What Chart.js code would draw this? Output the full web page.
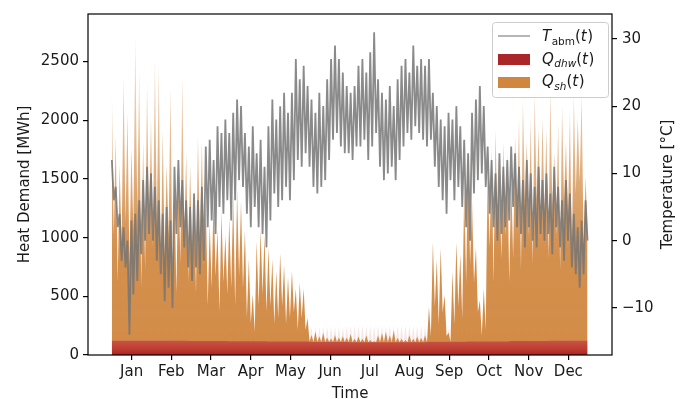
<!DOCTYPE html>
<html>
<head>
<meta charset="utf-8">
<script src="https://cdn.jsdelivr.net/npm/chart.js@4.4.1/dist/chart.umd.min.js"></script>
<style>
  html, body { margin: 0; padding: 0; background: #fff; }
  #wrap { width: 685px; height: 399px; }
</style>
</head>
<body>
<div id="wrap"><canvas id="chart" width="685" height="399"></canvas></div>
<script>
// =============================
// DATA (one value per 3-day block)
// =============================
const monthLabels = ["Jan", "Feb", "Mar", "Apr", "May", "Jun", "Jul", "Aug", "Sep", "Oct", "Nov", "Dec"];
const monthTickDays = [15.2, 45.6, 76.0, 106.5, 136.9, 167.3, 197.7, 228.1, 258.5, 289.0, 319.4, 349.8];
const monthStartDays = [0, 31, 59, 90, 120, 151, 181, 212, 243, 273, 304, 334];
const blockDays = 3;

// outdoor temperature, upper / lower swing per block [°C]
const tempHigh = [
    12, 8, 4, 2, 0, 3, 4, 6, 9, 11,
    10, 8, 6, 4, 5, 3, 11, 12, 9, 6,
    5, 7, 6, 8, 14, 15, 12, 17, 16, 18,
    16, 19, 21, 20, 16, 14, 17, 13, 15, 11,
    17, 21, 18, 20, 22, 19, 22, 27, 24, 26,
    23, 21, 19, 22, 20, 24, 27, 29, 27, 25,
    23, 22, 23, 26, 27, 25, 28, 31, 24, 22,
    21, 23, 20, 24, 26, 27, 25, 29, 26, 27,
    26, 27, 22, 20, 18, 17, 19, 18, 20, 17,
    15, 13, 19, 21, 23, 20, 14, 12, 10, 13,
    11, 12, 14, 13, 11, 9, 12, 10, 8, 11,
    9, 10, 7, 11, 8, 6, 9, 7, 4, 2, 3, 6
];
const tempLow = [
    6, 2, -3, -4, -14, -8, -6, -2, 0, 1,
    0, -3, -5, -9, -7, -10, 1, 2, -1, -4,
    -6, -4, -5, -3, 2, 3, 1, 5, 4, 6,
    3, 6, 9, 8, 4, 2, 5, 2, 1, -1,
    3, 7, 5, 6, 8, 6, 9, 12, 11, 13,
    11, 8, 7, 8, 9, 12, 15, 16, 14, 13,
    13, 12, 14, 14, 15, 12, 14, 16, 11, 9,
    10, 11, 9, 12, 14, 16, 15, 17, 16, 15,
    14, 15, 11, 8, 6, 4, 9, 6, 8, 5,
    2, 0, 7, 9, 10, 8, 4, 2, 0, 1,
    2, 3, 5, 2, 1, -1, 2, 0, -1, 1,
    0, 1, -2, 2, -1, -3, 0, -4, -5, -7, -5, 0
];

// space heating demand, spike tops / gaps between spikes per block [MWh]
const shPeak = [
    2150, 1750, 1500, 2250, 1950, 1650, 2600, 2300, 1700, 2200,
    1900, 2400, 2350, 1800, 1500, 2150, 1300, 1500, 2250, 1600,
    1500, 1300, 1750, 1700, 1200, 1000, 1250, 950, 1100, 900,
    1050, 1250, 1300, 1200, 950, 700, 400, 850, 950, 900,
    800, 700, 600, 750, 650, 550, 600, 450, 500, 450,
    200, 60, 90, 50, 80, 40, 30, 60, 40, 50,
    40, 70, 30, 50, 30, 60, 20, 10, 60, 80,
    90, 60, 100, 40, 30, 20, 60, 30, 50, 40,
    60, 300, 850, 700, 800, 400, 80, 600, 850, 750,
    1300, 1600, 1200, 800, 350, 450, 1500, 1650, 1800, 1400,
    1700, 1600, 1400, 1750, 1900, 2050, 1700, 1900, 2100, 1800,
    1900, 1800, 2150, 1600, 1850, 2000, 1700, 1950, 2100, 1900, 2100, 1400
];
const shGap = [
    900, 500, 800, 1000, 650, 950, 1100, 450, 600, 900,
    800, 1000, 550, 700, 900, 450, 400, 650, 850, 500,
    700, 400, 750, 650, 300, 450, 550, 250, 500, 400,
    450, 300, 550, 450, 200, 150, 80, 300, 400, 250,
    300, 150, 200, 300, 150, 200, 250, 100, 200, 100,
    0, 0, 0, 0, 0, 0, 0, 0, 0, 0,
    0, 0, 0, 0, 0, 0, 0, 0, 0, 0,
    0, 0, 0, 0, 0, 0, 0, 0, 0, 0,
    0, 50, 300, 150, 250, 50, 0, 150, 300, 200,
    500, 650, 500, 250, 50, 100, 800, 500, 1000, 700,
    900, 500, 700, 1000, 600, 1200, 900, 650, 1200, 1000,
    1100, 700, 1150, 900, 600, 1200, 1000, 700, 1250, 1350, 800, 900
];

// domestic hot water demand per month [MWh]: solid level and hourly spike tops
const dhwBase = [122, 122, 120, 118, 115, 110, 108, 108, 112, 116, 120, 122];
const dhwPeak = [170, 170, 170, 180, 200, 240, 250, 250, 230, 190, 170, 170];

// =============================
// HELPERS
// =============================
function monthOf(day) {
    let m = 0;
    for (let i = 0; i < monthStartDays.length; i++) {
        if (day >= monthStartDays[i]) m = i;
    }
    return m;
}

function zigzag(highs, lows, offset) {
    const pts = [];
    highs.forEach((h, i) => {
        const d = i * blockDays;
        const base = offset ? offset[monthOf(d)] : 0;
        pts.push({ x: d, y: base + h });
        pts.push({ x: d + blockDays / 2, y: base + lows[i] });
    });
    return pts;
}

function monthlyZigzag(highs, lows) {
    const pts = [];
    for (let i = 0; i < tempHigh.length; i++) {
        const d = i * blockDays;
        pts.push({ x: d, y: highs[monthOf(d)] });
        pts.push({ x: d + blockDays / 2, y: lows[monthOf(d)] });
    }
    return pts;
}

function monthlyFlat(levels) {
    const pts = [];
    for (let i = 0; i < tempHigh.length; i++) {
        const d = i * blockDays;
        pts.push({ x: d, y: levels[monthOf(d)] });
    }
    pts.push({ x: 364.5, y: levels[11] });
    return pts;
}

function heightGradient(chart, stops) {
    const { ctx, chartArea, scales } = chart;
    if (!chartArea) return "rgba(0,0,0,0)";
    const y = scales.y;
    const top = 2800;
    const g = ctx.createLinearGradient(0, y.getPixelForValue(0), 0, y.getPixelForValue(top));
    stops.forEach(([v, c]) => g.addColorStop(v / top, c));
    return g;
}

// =============================
// PLUGINS
// =============================
function drawRich(ctx, x, y, parts) {
    parts.forEach(p => {
        const size = p.sub ? 10.5 : 15;
        ctx.font = (p.it ? "italic " : "") + size + 'px "DejaVu Sans"';
        ctx.fillText(p.t, x, y + (p.sub ? 3.5 : 0));
        x += ctx.measureText(p.t).width + (p.it && !p.sub ? 0.5 : 0);
    });
}

const framePlugin = {
    id: "frame",
    afterDraw(chart) {
        const { ctx, chartArea: a } = chart;
        ctx.save();
        ctx.strokeStyle = "#000";
        ctx.lineWidth = 1.2;
        ctx.strokeRect(a.left, a.top, a.right - a.left, a.bottom - a.top);

        // right axis title, reading bottom to top
        ctx.fillStyle = "#1a1a1a";
        ctx.font = '15px "DejaVu Sans"';
        ctx.textAlign = "center";
        ctx.textBaseline = "middle";
        ctx.translate(668, (a.top + a.bottom) / 2);
        ctx.rotate(-Math.PI / 2);
        ctx.fillText("Temperature [°C]", 0, 0);
        ctx.restore();

        // legend box
        ctx.save();
        ctx.fillStyle = "rgba(255,255,255,0.8)";
        ctx.strokeStyle = "#cccccc";
        ctx.lineWidth = 1;
        ctx.beginPath();
        ctx.roundRect(492.5, 22.5, 116, 75, 3);
        ctx.fill();
        ctx.stroke();

        ctx.strokeStyle = "rgba(120,120,120,0.9)";
        ctx.lineWidth = 1.2;
        ctx.beginPath();
        ctx.moveTo(498, 36);
        ctx.lineTo(530, 36);
        ctx.stroke();
        ctx.fillStyle = "rgb(170,38,40)";
        ctx.fillRect(498, 54, 32, 11);
        ctx.fillStyle = "rgb(208,134,62)";
        ctx.fillRect(498, 77, 32, 11);

        ctx.fillStyle = "#1a1a1a";
        ctx.textAlign = "left";
        ctx.textBaseline = "alphabetic";
        drawRich(ctx, 542, 41, [{ t: "T", it: true }, { t: "abm", sub: true }, { t: "(" }, { t: "t", it: true }, { t: ")" }]);
        drawRich(ctx, 542, 63.5, [{ t: "Q", it: true }, { t: "dhw", sub: true, it: true }, { t: "(" }, { t: "t", it: true }, { t: ")" }]);
        drawRich(ctx, 542, 86, [{ t: "Q", it: true }, { t: "sh", sub: true, it: true }, { t: "(" }, { t: "t", it: true }, { t: ")" }]);
        ctx.restore();
    }
};

// =============================
// CHART
// =============================
const tickFont = { family: "DejaVu Sans", size: 15 };
const axisGrid = { drawOnChartArea: false, drawTicks: true, tickLength: 5, color: "#000", lineWidth: 1.2 };

new Chart(document.getElementById("chart"), {
    type: "line",
    data: {
        datasets: [
            {
                label: "T_abm(t)",
                data: zigzag(tempHigh, tempLow),
                yAxisID: "y1",
                borderColor: "rgba(118,118,118,0.85)",
                borderWidth: 1.8,
                pointRadius: 0,
                fill: false,
                order: 0
            },
            {
                label: "Q_dhw(t)",
                data: monthlyFlat(dhwBase),
                yAxisID: "y",
                borderColor: "transparent",
                backgroundColor: ctx => heightGradient(ctx.chart, [
                    [0, "rgba(168,30,30,0.95)"],
                    [50, "rgba(185,45,45,0.85)"],
                    [125, "rgba(200,70,70,0.8)"]
                ]),
                pointRadius: 0,
                fill: "origin",
                order: 1
            },
            {
                label: "Q_sh(t)",
                data: zigzag(shPeak, shGap, dhwBase),
                yAxisID: "y",
                borderColor: "transparent",
                backgroundColor: ctx => heightGradient(ctx.chart, [
                    [0, "rgba(208,134,62,0.95)"],
                    [900, "rgba(208,134,62,0.92)"],
                    [1600, "rgba(208,134,62,0.65)"],
                    [2800, "rgba(208,134,62,0.18)"]
                ]),
                pointRadius: 0,
                fill: "origin",
                order: 2
            },
            {
                label: "dhw spikes",
                data: monthlyZigzag(dhwPeak, dhwBase),
                yAxisID: "y",
                borderColor: "transparent",
                backgroundColor: "rgba(205,95,95,0.15)",
                pointRadius: 0,
                fill: "origin",
                order: 3
            }
        ]
    },
    options: {
        responsive: false,
        animation: false,
        devicePixelRatio: 1,
        layout: { padding: { top: 14, left: 0, right: 0, bottom: 0 } },
        plugins: { legend: { display: false }, tooltip: { enabled: false } },
        elements: { line: { tension: 0 } },
        scales: {
            x: {
                type: "linear",
                min: -18.25,
                max: 383.25,
                border: { display: false },
                grid: axisGrid,
                afterBuildTicks: s => { s.ticks = monthTickDays.map(v => ({ value: v })); },
                afterFit: s => { s.height = 44; },
                ticks: {
                    autoSkip: false,
                    maxRotation: 0,
                    padding: 3,
                    color: "#1a1a1a",
                    font: tickFont,
                    callback: (v, i) => monthLabels[i]
                },
                title: { display: true, text: "Time", color: "#1a1a1a", font: tickFont, padding: { top: 0, bottom: -4 } }
            },
            y: {
                position: "left",
                min: 0,
                max: 2905,
                border: { display: false },
                grid: axisGrid,
                afterBuildTicks: s => { s.ticks = [0, 500, 1000, 1500, 2000, 2500].map(v => ({ value: v })); },
                afterFit: s => { s.width = 88; },
                ticks: { padding: 4, color: "#1a1a1a", font: tickFont, callback: v => String(v) },
                title: { display: true, text: "Heat Demand [MWh]", color: "#1a1a1a", font: tickFont, padding: { top: 16, bottom: 0 } }
            },
            y1: {
                position: "right",
                min: -17,
                max: 33.7,
                border: { display: false },
                grid: axisGrid,
                afterBuildTicks: s => { s.ticks = [-10, 0, 10, 20, 30].map(v => ({ value: v })); },
                afterFit: s => { s.width = 73; },
                ticks: {
                    padding: 5,
                    color: "#1a1a1a",
                    font: tickFont,
                    callback: v => String(v).replace("-", "\u2212")
                }
            }
        }
    },
    plugins: [framePlugin]
});
</script>
</body>
</html>
